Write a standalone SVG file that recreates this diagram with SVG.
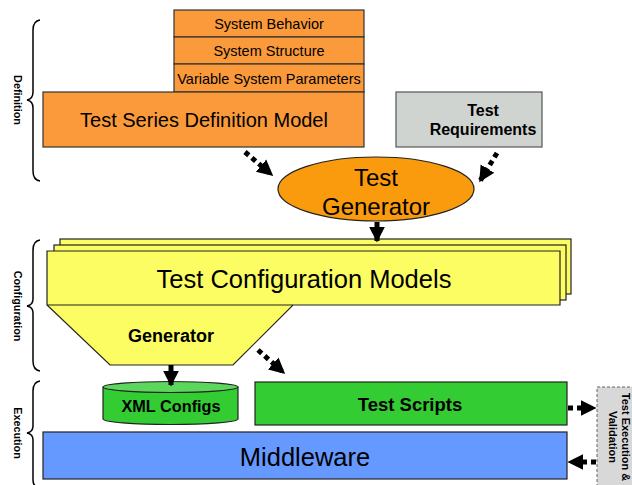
<svg xmlns="http://www.w3.org/2000/svg" width="632" height="485" viewBox="0 0 632 485">
<style>
text{font-family:"Liberation Sans",Arial,sans-serif;fill:#000}
.b{font-weight:bold}
.brace{fill:none;stroke:#000;stroke-width:1.5}
.orange{fill:#fb9a3a;stroke:#333;stroke-width:1.2}
.dot{fill:none;stroke:#000;stroke-width:5;stroke-dasharray:5 4}
.solid{fill:none;stroke:#000;stroke-width:5}
.lbl{font-size:10.8px;font-weight:bold}
.st{font-size:14.5px}
</style>
<defs>
<marker id="ah" viewBox="0 0 10 10" refX="9" refY="5" markerWidth="3.2" markerHeight="3.6" markerUnits="strokeWidth" orient="auto">
<path d="M0,0 L10,5 L0,10 z" fill="#000"/>
</marker>
</defs>
<g id="braces">
<path class="brace" d="M40,20 Q33,21 33,30 L33,92 Q33,99 27,100 Q33,101 33,108 L33,171 Q33,180 40,181"/>
<text class="lbl" transform="translate(14,100) rotate(90)" text-anchor="middle">Definition</text>
<path class="brace" d="M40,240 Q33,241 33,250 L33,299 Q33,305 27,306 Q33,307 33,313 L33,361 Q33,370 40,371"/>
<text class="lbl" transform="translate(14,306) rotate(90)" text-anchor="middle">Configuration</text>
<path class="brace" d="M40,381 Q33,382 33,391 L33,426 Q33,432 27,433 Q33,434 33,440 L33,480 Q33,487 40,488"/>
<text class="lbl" transform="translate(14,433) rotate(90)" text-anchor="middle">Execution</text>
</g>
<g id="stack">
<rect class="orange" x="174" y="10" width="190" height="27"/>
<text class="st" x="269" y="28.5" text-anchor="middle">System Behavior</text>
<rect class="orange" x="174" y="37" width="190" height="27"/>
<text class="st" x="269" y="56" text-anchor="middle">System Structure</text>
<rect class="orange" x="174" y="64" width="190" height="28"/>
<text class="st" x="269" y="83.5" text-anchor="middle">Variable System Parameters</text>
</g>
<g id="tsdm">
<rect class="orange" x="43" y="92" width="321" height="55"/>
<text x="204" y="127" font-size="20" text-anchor="middle">Test Series Definition Model</text>
</g>
<g id="treq">
<rect x="396" y="92" width="146" height="55" fill="#d0d4d0" stroke="#555" stroke-width="1.2"/>
<text class="b" x="483" y="116" font-size="16" text-anchor="middle">Test</text>
<text class="b" x="483" y="135" font-size="16" text-anchor="middle">Requirements</text>
</g>
<g id="tgen">
<ellipse cx="376" cy="189" rx="98" ry="32" fill="#f99b0c" stroke="#222" stroke-width="1.2"/>
<text x="376" y="186" font-size="24" text-anchor="middle">Test</text>
<text x="376" y="215" font-size="24" text-anchor="middle">Generator</text>
</g>
<g id="tcm">
<rect x="60" y="239" width="511" height="55" fill="#fcfc63" stroke="#222" stroke-width="1.2"/>
<rect x="54" y="245" width="512" height="55" fill="#fcfc63" stroke="#222" stroke-width="1.2"/>
<path d="M47,251 L560,251 L560,305 L293,305 L233,365 L110,365 L47,305 Z" fill="#fcfc63" stroke="#222" stroke-width="1.2"/>
<line x1="47" y1="305" x2="293" y2="305" stroke="#222" stroke-width="1.2"/>
<text x="304" y="288" font-size="25.5" text-anchor="middle">Test Configuration Models</text>
<text class="b" x="171" y="342" font-size="18" text-anchor="middle">Generator</text>
</g>
<g id="xml">
<path d="M103,387 L103,419 A67.5,5.5 0 0 0 238,419 L238,387" fill="#33cc33" stroke="#222" stroke-width="1.2"/>
<ellipse cx="170.5" cy="387" rx="67.5" ry="5.5" fill="#5cd65c" stroke="#222" stroke-width="1.2"/>
<text class="b" x="171" y="412" font-size="16.3" text-anchor="middle">XML Configs</text>
</g>
<g id="scripts">
<rect x="255" y="382" width="312" height="43" fill="#33cc33" stroke="#222" stroke-width="1.2"/>
<text class="b" x="410" y="411" font-size="18.5" text-anchor="middle">Test Scripts</text>
</g>
<g id="mw">
<rect x="43" y="432" width="524" height="47" fill="#6699ff" stroke="#222" stroke-width="1.2"/>
<text x="305" y="466" font-size="25.5" text-anchor="middle">Middleware</text>
</g>
<g id="tev">
<rect x="597" y="387" width="45" height="105" fill="#d8d8d8" stroke="#666" stroke-width="1" stroke-dasharray="3 2"/>
<text class="b" transform="translate(622,437) rotate(90)" font-size="11" text-anchor="middle">Test Execution &amp;</text>
<text class="b" transform="translate(609,437) rotate(90)" font-size="11" text-anchor="middle">Validation</text>
</g>
<g id="connectors">
<path class="dot" d="M245,152 L272,175" marker-end="url(#ah)"/>
<path class="dot" d="M497,153 L480,181" marker-end="url(#ah)"/>
<path class="solid" d="M377,222 L377,241" marker-end="url(#ah)"/>
<path class="dot" d="M258,350 L284,373" marker-end="url(#ah)"/>
<path class="solid" d="M171,365 L171,385" marker-end="url(#ah)"/>
<path class="dot" d="M568,408 L595,408" marker-end="url(#ah)"/>
<path class="dot" d="M596,462 L569,462" marker-end="url(#ah)"/>
</g>
</svg>
